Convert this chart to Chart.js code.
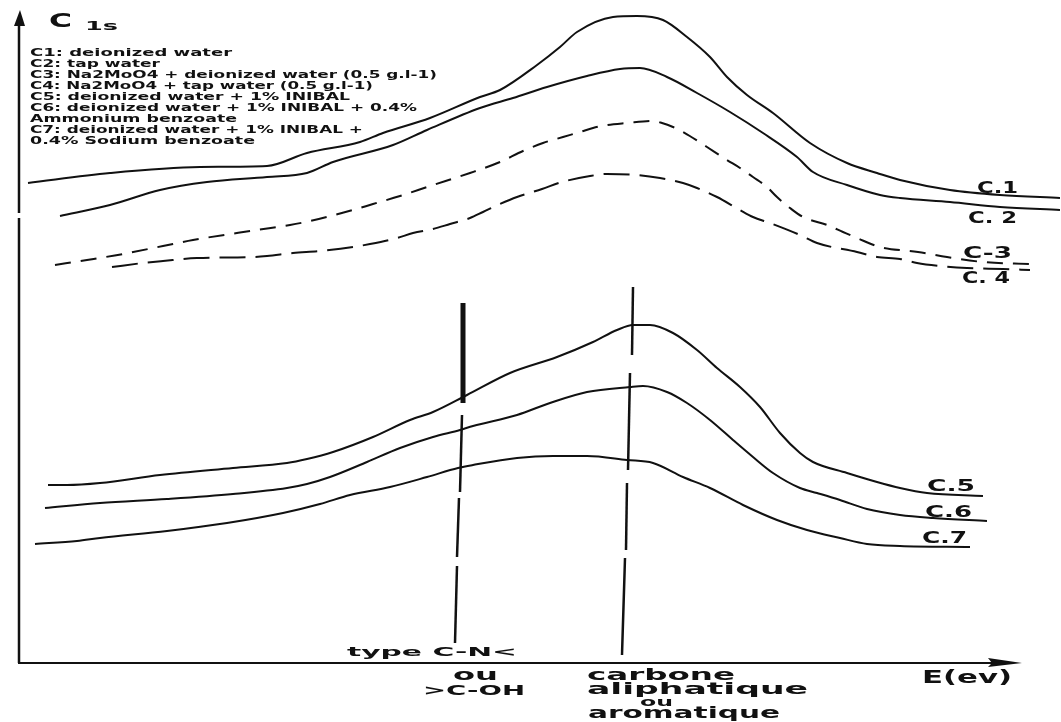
<!DOCTYPE html>
<html>
<head>
<meta charset="utf-8">
<script src="https://cdn.jsdelivr.net/npm/chart.js@4"></script>
<style>
  html, body { margin: 0; padding: 0; background: #fff; }
  #wrap { width: 1061px; height: 722px; position: relative; }
</style>
</head>
<body>
<div id="wrap"><canvas id="chart"></canvas></div>
<script>
// C 1s spectra: [energy (a.u.), intensity (a.u.)]
const curveC1 = [[0.8,48.0],[9.0,49.0],[18.0,49.6],[24.7,49.7],[28.7,51.0],[34.0,52.1],[36.3,53.0],[41.0,54.5],[46.0,56.6],[48.0,57.3],[51.7,59.8],[54.0,61.6],[55.7,63.1],[59.3,64.6],[61.7,64.7],[64.3,64.3],[66.7,62.6],[69.0,60.6],[70.7,58.6],[72.7,56.8],[75.3,55.0],[79.0,52.0],[82.7,50.0],[85.7,49.0],[88.0,48.3],[93.0,47.3],[98.0,46.8],[104.0,46.5]];
const curveC2 = [[4.0,44.7],[9.0,45.8],[14.0,47.3],[18.7,48.1],[24.7,48.6],[28.7,49.0],[31.3,50.1],[37.3,51.8],[40.7,53.3],[46.0,55.5],[49.3,56.5],[52.7,57.6],[56.7,58.7],[60.0,59.4],[62.0,59.5],[64.7,58.6],[67.7,57.0],[71.0,55.1],[74.3,53.0],[77.7,50.6],[79.3,49.1],[82.7,47.8],[86.0,46.8],[88.0,46.5],[93.0,46.1],[98.0,45.6],[104.0,45.3]];
const curveC3 = [[3.5,39.8],[6.7,40.3],[10.3,40.9],[14.3,41.7],[17.3,42.3],[23.7,43.3],[27.0,43.8],[29.0,44.2],[33.3,45.3],[35.3,45.9],[38.0,46.7],[41.0,47.7],[45.0,49.0],[48.0,50.1],[50.3,51.2],[52.3,52.0],[54.3,52.6],[56.0,53.1],[57.3,53.5],[58.7,53.8],[60.7,54.0],[63.3,54.2],[64.2,54.0],[65.3,53.6],[66.3,53.1],[67.3,52.5],[68.7,51.6],[70.7,50.3],[72.0,49.5],[73.3,48.6],[74.7,47.6],[75.7,46.6],[77.0,45.5],[78.3,44.6],[80.7,43.8],[82.3,43.1],[83.7,42.5],[86.0,41.6],[89.8,41.1],[92.7,40.6],[96.3,40.1],[101.0,39.9]];
const curveC4 = [[9.2,39.6],[12.3,40.0],[14.3,40.2],[17.7,40.5],[23.3,40.6],[24.7,40.7],[27.3,41.0],[30.0,41.2],[33.3,41.6],[35.0,41.9],[37.7,42.5],[39.3,43.0],[41.3,43.4],[43.0,43.9],[45.0,44.5],[46.3,45.1],[48.0,45.9],[49.7,46.6],[52.2,47.4],[54.2,48.1],[57.0,48.7],[58.7,48.9],[61.7,48.8],[64.0,48.5],[66.3,48.0],[67.7,47.5],[69.7,46.6],[72.0,45.3],[73.3,44.6],[75.0,44.0],[78.0,42.8],[79.7,42.0],[83.7,41.1],[85.7,40.6],[88.0,40.4],[89.7,40.0],[92.0,39.7],[94.7,39.5],[98.3,39.4],[101.0,39.3]];
const curveC5 = [[2.8,17.8],[4.7,17.8],[8.0,18.0],[14.0,18.8],[21.3,19.5],[26.7,20.0],[28.7,20.4],[31.3,21.1],[35.3,22.6],[39.0,24.3],[41.3,25.1],[44.7,26.8],[49.0,29.0],[53.7,30.6],[57.3,32.1],[59.7,33.3],[61.3,33.8],[63.0,33.8],[65.3,33.0],[67.7,31.3],[69.7,29.5],[72.0,27.6],[74.0,25.6],[76.0,23.0],[78.0,21.0],[79.3,20.1],[82.7,19.0],[85.7,18.1],[88.0,17.5],[90.7,17.0],[96.3,16.7]];
const curveC6 = [[2.5,15.5],[8.0,16.0],[14.7,16.4],[21.3,16.9],[26.7,17.5],[28.7,17.9],[31.0,18.6],[34.7,20.1],[38.0,21.5],[41.3,22.6],[44.0,23.3],[45.3,23.7],[49.7,24.8],[53.0,26.0],[56.7,27.1],[61.0,27.6],[62.3,27.7],[64.7,27.1],[66.7,26.0],[69.0,24.3],[71.3,22.3],[73.3,20.6],[75.3,19.0],[78.0,17.5],[79.7,17.0],[82.0,16.3],[84.7,15.4],[88.0,14.8],[91.3,14.5],[96.7,14.2]];
const curveC7 = [[1.5,11.9],[5.7,12.2],[8.0,12.5],[14.7,13.2],[20.7,14.0],[26.3,15.0],[30.0,15.9],[33.0,16.8],[37.0,17.6],[40.7,18.6],[43.8,19.5],[45.3,19.8],[49.7,20.5],[53.3,20.7],[56.7,20.7],[60.7,20.3],[63.3,20.0],[66.3,18.6],[69.0,17.5],[72.3,15.8],[75.7,14.3],[78.7,13.3],[82.0,12.5],[84.7,11.9],[88.0,11.7],[95.0,11.6]];

const curveNames = ['C.1', 'C. 2', 'C-3', 'C. 4', 'C.5', 'C.6', 'C.7'];

const legendLines = [
  'C1: deionized water',
  'C2: tap water',
  'C3: Na2MoO4 + deionized water (0.5 g.l-1)',
  'C4: Na2MoO4 + tap water (0.5 g.l-1)',
  'C5: deionized water + 1% INIBAL',
  'C6: deionized water + 1% INIBAL + 0.4%',
  'Ammonium benzoate',
  'C7: deionized water + 1% INIBAL +',
  '0.4% Sodium benzoate'
];

// broken vertical markers at the two carbon environments: [E1, I1, E2, I2]
const markerCN = [[44.3,36.0,44.3,26.0],[44.2,24.8,44.0,17.1],[43.9,16.5,43.7,10.6],[43.7,9.7,43.5,2.0]];
const markerCC = [[61.3,37.6,61.2,30.8],[61.0,29.0,60.8,19.3],[60.7,18.0,60.6,11.3],[60.5,10.5,60.2,0.8]];

const E_MAX = 104, I_MAX = 65;

const toPts = arr => arr.map(([x, y]) => ({ x, y }));

function curveSet(pts, dash) {
  return {
    data: toPts(pts),
    borderColor: '#111',
    borderWidth: 2,
    borderDash: dash || [],
    pointRadius: 0,
    cubicInterpolationMode: 'monotone',
    fill: false
  };
}
function markerSet(seg, width) {
  return {
    data: [{ x: seg[0], y: seg[1] }, { x: seg[2], y: seg[3] }],
    borderColor: '#111',
    borderWidth: width,
    pointRadius: 0,
    tension: 0,
    fill: false
  };
}

const datasets = [
  curveSet(curveC1), curveSet(curveC2),
  curveSet(curveC3, [16, 10]), curveSet(curveC4, [26, 10]),
  curveSet(curveC5), curveSet(curveC6), curveSet(curveC7)
];
markerCN.forEach((s, i) => datasets.push(markerSet(s, i === 0 ? 5 : 2.5)));
markerCC.forEach(s => datasets.push(markerSet(s, 2.5)));

const FONT = '"DejaVu Sans", "Liberation Sans", sans-serif';

// bold text stretched horizontally to a given width
function wideText(ctx, str, x, base, width, size) {
  ctx.save();
  ctx.font = 'bold ' + size + 'px ' + FONT;
  ctx.textBaseline = 'alphabetic';
  ctx.textAlign = 'left';
  const w = ctx.measureText(str).width;
  ctx.translate(x, base);
  ctx.scale(width / w, 1);
  ctx.fillText(str, 0, 0);
  ctx.restore();
}

const decorations = {
  id: 'decorations',
  afterDatasetsDraw(chart) {
    const { ctx } = chart;
    const xs = chart.scales.x, ys = chart.scales.y;
    const x0 = xs.getPixelForValue(0) - 1;
    const y0 = ys.getPixelForValue(0);
    ctx.save();
    ctx.fillStyle = '#111';
    ctx.strokeStyle = '#111';
    ctx.lineCap = 'butt';

    // intensity axis (with its small break) and arrow
    ctx.lineWidth = 2.5;
    ctx.beginPath();
    ctx.moveTo(x0, y0);
    ctx.lineTo(x0, ys.getPixelForValue(44.5));
    ctx.moveTo(x0, ys.getPixelForValue(45.0));
    ctx.lineTo(x0, 22);
    ctx.stroke();
    ctx.beginPath();
    ctx.moveTo(x0 + 1, 10);
    ctx.lineTo(x0 - 5, 26);
    ctx.lineTo(x0 + 6, 26);
    ctx.closePath();
    ctx.fill();

    // energy axis and arrow
    ctx.lineWidth = 2;
    ctx.beginPath();
    ctx.moveTo(x0 - 1, y0);
    ctx.lineTo(995, y0);
    ctx.stroke();
    ctx.beginPath();
    ctx.moveTo(1022, y0);
    ctx.lineTo(988, y0 - 5);
    ctx.lineTo(992, y0);
    ctx.lineTo(988, y0 + 4);
    ctx.closePath();
    ctx.fill();

    // axis titles
    wideText(ctx, 'C', 49, 27, 23, 19);
    wideText(ctx, '1s', 85, 30, 33, 13);
    wideText(ctx, 'E(ev)', 922, 683, 90, 17);

    // sample key
    const keyW = [202, 130, 407, 343, 320, 387, 207, 333, 225];
    legendLines.forEach((t, i) => wideText(ctx, t, 30, 56 + i * 11, keyW[i], 11));

    // curve tags
    const tagPos = [[977,193,41],[968,223,49],[963,258,49],[962,283,48],[927,491,48],[925,517,47],[922,543,45]];
    curveNames.forEach((t, i) => wideText(ctx, t, tagPos[i][0], tagPos[i][1], tagPos[i][2], 15));

    // marker annotations
    wideText(ctx, 'type C-N<', 347, 656, 170, 12);
    wideText(ctx, 'ou', 453, 680, 45, 15);
    wideText(ctx, '>C-OH', 423, 695, 102, 14);
    wideText(ctx, 'carbone', 587, 680, 148, 16);
    wideText(ctx, 'aliphatique', 587, 694, 221, 16);
    wideText(ctx, 'ou', 640, 706, 33, 13);
    wideText(ctx, 'aromatique', 588, 718, 192, 16);
    ctx.restore();
  }
};

new Chart(document.getElementById('chart'), {
  type: 'line',
  data: { datasets },
  options: {
    responsive: true,
    maintainAspectRatio: false,
    animation: false,
    layout: { padding: { left: 20, right: 1, top: 13, bottom: 59 } },
    scales: {
      x: { type: 'linear', min: 0, max: E_MAX, display: false },
      y: { type: 'linear', min: 0, max: I_MAX, display: false }
    },
    plugins: { legend: { display: false }, tooltip: { enabled: false } },
    elements: { line: { borderCapStyle: 'butt' } }
  },
  plugins: [decorations]
});
</script>
</body>
</html>
